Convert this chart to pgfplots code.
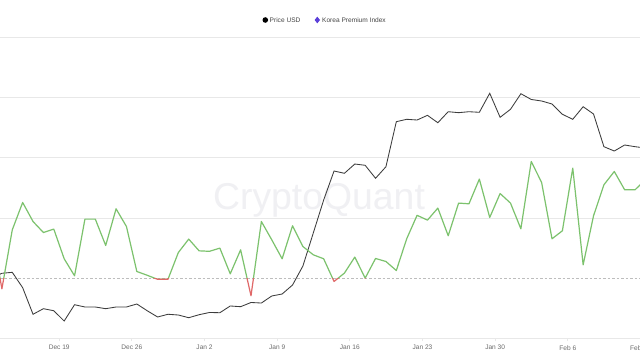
\documentclass[border=0pt]{standalone}
\usepackage{pgfplots}
\pgfplotsset{compat=1.18}
\usepackage{pgfplotstable}
\usepackage{fontspec}
\setmainfont{Liberation Sans}

\definecolor{pricecol}{HTML}{3C3C3C}
\definecolor{kpgreen}{HTML}{7CC26D}
\definecolor{kpred}{HTML}{E06868}
\definecolor{gridcol}{HTML}{E8E8E8}
\definecolor{zerocol}{HTML}{BDBDBD}
\definecolor{legpurple}{HTML}{5B3FD9}
\definecolor{legtext}{HTML}{444444}
\definecolor{ticktext}{HTML}{6B6B6B}
\definecolor{wm}{HTML}{F0F0F3}

% i = day index (daily data), price in arbitrary chart units, kp = Korea Premium Index
\pgfplotstableread{
i price kp
-1 1.002 0.802
0 1.080 -0.178
1 1.096 0.802
2 0.841 1.256
3 0.399 0.940
4 0.492 0.757
5 0.458 0.814
6 0.287 0.321
7 0.558 0.038
8 0.520 0.980
9 0.520 0.980
10 0.492 0.542
11 0.520 1.151
12 0.520 0.857
13 0.570 0.110
14 0.458 0.047
15 0.354 -0.020
16 0.399 -0.020
17 0.387 0.425
18 0.342 0.648
19 0.392 0.453
20 0.429 0.445
21 0.425 0.498
22 0.537 0.071
23 0.525 0.470
24 0.595 -0.294
25 0.586 0.940
26 0.703 0.636
27 0.736 0.321
28 0.885 0.869
29 1.201 0.525
30 1.749 0.387
31 2.297 0.321
32 2.779 -0.056
33 2.741 0.083
34 2.895 0.349
35 2.874 0.000
36 2.658 0.326
37 2.850 0.276
38 3.598 0.126
39 3.638 0.653
40 3.626 1.043
41 3.704 0.963
42 3.581 1.163
43 3.764 0.703
44 3.748 1.246
45 3.764 1.234
46 3.754 1.645
47 4.070 1.007
48 3.671 1.405
49 3.804 1.246
50 4.063 0.819
51 3.967 1.937
52 3.942 1.588
53 3.892 0.653
54 3.721 0.786
55 3.638 1.827
56 3.847 0.221
57 3.726 1.035
58 3.183 1.550
59 3.111 1.771
60 3.211 1.467
61 3.183 1.467
62 3.161 1.633
}\data

\pgfplotsset{
  base/.style={scale only axis, width=650.6bp, xmin=-0.183, xmax=62.5,
    at={(0bp,#1)}, anchor=south west},
}

\begin{document}
\begin{tikzpicture}[x=1bp,y=1bp]
\useasboundingbox (0,0) rectangle (640,360);
\fill[white] (0,0) rectangle (640,360);

% watermark
\node[anchor=base, text=wm, font=\fontsize{37.5}{40}\selectfont, inner sep=0pt] at (319,151) {CryptoQuant};

% main axis: grid, ticks, labels
\begin{axis}[base=21.7bp, height=301bp, ymin=-1, ymax=4,
  axis line style={draw=none},
  ytick={-1,1,2,3,4}, yticklabels={}, ytick style={draw=none},
  ymajorgrids, grid style={gridcol, line width=0.8bp},
  extra y ticks={0}, extra y tick labels={},
  extra y tick style={grid style={zerocol, line width=0.6bp, dash pattern=on 2.5bp off 2bp}, tick style={draw=none}},
  xtick={5.52,12.52,19.52,26.52,33.52,40.52,47.52,54.52,61.52},
  xticklabels={Dec 19,Dec 26,Jan 2,Jan 9,Jan 16,Jan 23,Jan 30,Feb 6,Feb 13},
  xtick pos=lower, tick align=outside, major tick length=3bp,
  xtick style={gridcol, line width=0.8bp},
  xticklabel style={font=\fontsize{6.6}{8}\selectfont, text=ticktext, yshift=-0.5bp},
]
\addplot[draw=none] coordinates {(0,0)};
\end{axis}

% price
\begin{axis}[base=21.7bp, height=301bp, ymin=0, ymax=5, hide axis, clip=true]
\addplot[pricecol, line width=0.85bp] table[x=i, y=price] {\data};
\end{axis}

% premium above zero (green)
\begin{axis}[base=81.9bp, height=240.8bp, ymin=0, ymax=4, hide axis, clip=true]
\addplot[kpgreen, line width=1.2bp, line join=round] table[x=i, y=kp] {\data};
\end{axis}

% premium below zero (red)
\begin{axis}[base=21.7bp, height=60.2bp, ymin=-1, ymax=0, hide axis, clip=true]
\addplot[kpred, line width=1.2bp, line join=round] table[x=i, y=kp] {\data};
\end{axis}

% legend
\fill[black] (265.3,340) circle (2.8);
\node[anchor=west, inner sep=0pt, text=legtext, font=\fontsize{6.6}{8}\selectfont] at (269.5,340) {Price USD};
\fill[legpurple] (317.3,343.3) -- (320,340) -- (317.3,336.7) -- (314.6,340) -- cycle;
\node[anchor=west, inner sep=0pt, text=legtext, font=\fontsize{6.6}{8}\selectfont] at (322,340) {Korea Premium Index};
\end{tikzpicture}
\end{document}
